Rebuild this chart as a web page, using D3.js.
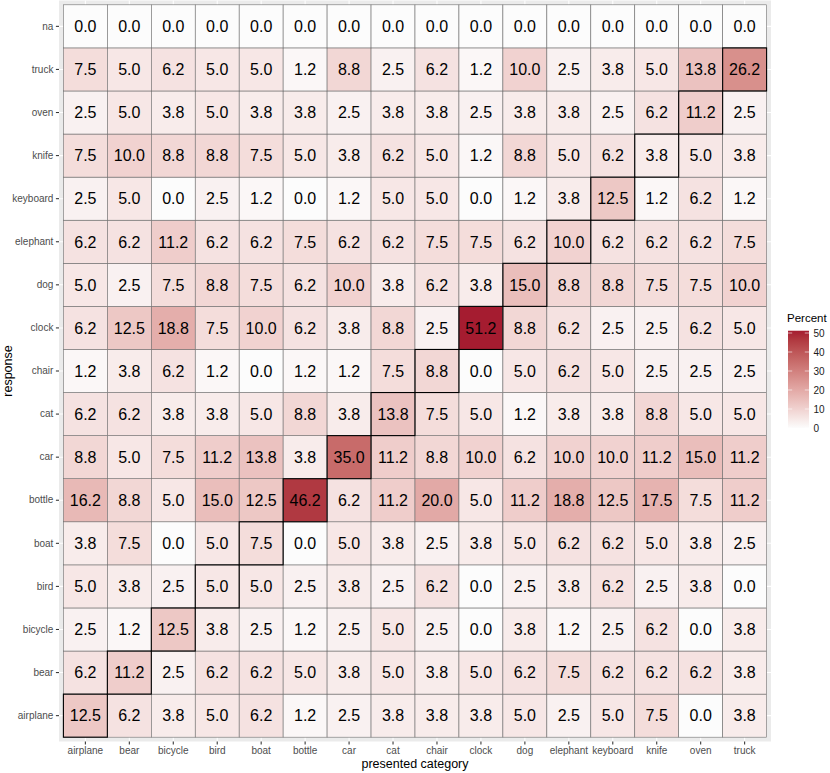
<!DOCTYPE html>
<html>
<head>
<meta charset="utf-8">
<script src="https://cdn.jsdelivr.net/npm/d3@7"></script>
<style>
  body { margin: 0; background: #fff; }
  svg { display: block; font-family: "Liberation Sans", Arial, sans-serif; }
</style>
</head>
<body>
<div id="chart"></div>
<script>
'use strict';

// presented categories (x) and responses (y, bottom to top)
const presented = ['airplane', 'bear', 'bicycle', 'bird', 'boat', 'bottle', 'car', 'cat',
  'chair', 'clock', 'dog', 'elephant', 'keyboard', 'knife', 'oven', 'truck']
const responses = ['airplane', 'bear', 'bicycle', 'bird', 'boat', 'bottle', 'car', 'cat',
  'chair', 'clock', 'dog', 'elephant', 'keyboard', 'knife', 'oven', 'truck', 'na']

// percent of responses, one row per response, columns follow `presented`
const airplaneRow = [12.5, 6.2, 3.8, 5.0, 6.2, 1.2, 2.5, 3.8, 3.8, 3.8, 5.0, 2.5, 5.0, 7.5, 0.0, 3.8]
const bearRow     = [6.2, 11.2, 2.5, 6.2, 6.2, 5.0, 3.8, 5.0, 3.8, 5.0, 6.2, 7.5, 6.2, 6.2, 6.2, 3.8]
const bicycleRow  = [2.5, 1.2, 12.5, 3.8, 2.5, 1.2, 2.5, 5.0, 2.5, 0.0, 3.8, 1.2, 2.5, 6.2, 0.0, 3.8]
const birdRow     = [5.0, 3.8, 2.5, 5.0, 5.0, 2.5, 3.8, 2.5, 6.2, 0.0, 2.5, 3.8, 6.2, 2.5, 3.8, 0.0]
const boatRow     = [3.8, 7.5, 0.0, 5.0, 7.5, 0.0, 5.0, 3.8, 2.5, 3.8, 5.0, 6.2, 6.2, 5.0, 3.8, 2.5]
const bottleRow   = [16.2, 8.8, 5.0, 15.0, 12.5, 46.2, 6.2, 11.2, 20.0, 5.0, 11.2, 18.8, 12.5, 17.5, 7.5, 11.2]
const carRow      = [8.8, 5.0, 7.5, 11.2, 13.8, 3.8, 35.0, 11.2, 8.8, 10.0, 6.2, 10.0, 10.0, 11.2, 15.0, 11.2]
const catRow      = [6.2, 6.2, 3.8, 3.8, 5.0, 8.8, 3.8, 13.8, 7.5, 5.0, 1.2, 3.8, 3.8, 8.8, 5.0, 5.0]
const chairRow    = [1.2, 3.8, 6.2, 1.2, 0.0, 1.2, 1.2, 7.5, 8.8, 0.0, 5.0, 6.2, 5.0, 2.5, 2.5, 2.5]
const clockRow    = [6.2, 12.5, 18.8, 7.5, 10.0, 6.2, 3.8, 8.8, 2.5, 51.2, 8.8, 6.2, 2.5, 2.5, 6.2, 5.0]
const dogRow      = [5.0, 2.5, 7.5, 8.8, 7.5, 6.2, 10.0, 3.8, 6.2, 3.8, 15.0, 8.8, 8.8, 7.5, 7.5, 10.0]
const elephantRow = [6.2, 6.2, 11.2, 6.2, 6.2, 7.5, 6.2, 6.2, 7.5, 7.5, 6.2, 10.0, 6.2, 6.2, 6.2, 7.5]
const keyboardRow = [2.5, 5.0, 0.0, 2.5, 1.2, 0.0, 1.2, 5.0, 5.0, 0.0, 1.2, 3.8, 12.5, 1.2, 6.2, 1.2]
const knifeRow    = [7.5, 10.0, 8.8, 8.8, 7.5, 5.0, 3.8, 6.2, 5.0, 1.2, 8.8, 5.0, 6.2, 3.8, 5.0, 3.8]
const ovenRow     = [2.5, 5.0, 3.8, 5.0, 3.8, 3.8, 2.5, 3.8, 3.8, 2.5, 3.8, 3.8, 2.5, 6.2, 11.2, 2.5]
const truckRow    = [7.5, 5.0, 6.2, 5.0, 5.0, 1.2, 8.8, 2.5, 6.2, 1.2, 10.0, 2.5, 3.8, 5.0, 13.8, 26.2]
const naRow       = [0.0, 0.0, 0.0, 0.0, 0.0, 0.0, 0.0, 0.0, 0.0, 0.0, 0.0, 0.0, 0.0, 0.0, 0.0, 0.0]

const rows = [airplaneRow, bearRow, bicycleRow, birdRow, boatRow, bottleRow, carRow, catRow,
  chairRow, clockRow, dogRow, elephantRow, keyboardRow, knifeRow, ovenRow, truckRow, naRow]

const legendTicks = [0, 10, 20, 30, 40, 50]

const width = 830, height = 773
const panel = { left: 59, right: 771, top: 0.5, bottom: 741.5 }

// long form table for the tiles
const cells = []
responses.forEach((r, i) => {
  presented.forEach((p, j) => {
    cells.push({ response: r, presented: p, value: rows[i][j] })
  })
})

const svg = d3.select('#chart').append('svg')
  .attr('width', width)
  .attr('height', height)

const x = d3.scaleBand()
  .domain(presented)
  .range([panel.left, panel.right])
  .paddingInner(0)
  .paddingOuter(0.1)

const y = d3.scaleBand()
  .domain(responses.slice().reverse())
  .range([panel.top, panel.bottom])
  .paddingInner(0)
  .paddingOuter(0.1)

const maxVal = d3.max(cells, d => d.value)
const color = d3.scaleLinear()
  .domain([0, maxVal])
  .range(['#fcfcfc', '#a51c30'])
  .interpolate(d3.interpolateLab)

// panel background + grid
svg.append('rect')
  .attr('x', panel.left).attr('y', panel.top)
  .attr('width', panel.right - panel.left)
  .attr('height', panel.bottom - panel.top)
  .attr('fill', '#ebebeb')

svg.append('g').selectAll('line.vx')
  .data(presented).join('line')
  .attr('x1', d => x(d) + x.bandwidth() / 2)
  .attr('x2', d => x(d) + x.bandwidth() / 2)
  .attr('y1', panel.top).attr('y2', panel.bottom)
  .attr('stroke', '#fff').attr('stroke-width', 1.07)

svg.append('g').selectAll('line.hy')
  .data(responses).join('line')
  .attr('y1', d => y(d) + y.bandwidth() / 2)
  .attr('y2', d => y(d) + y.bandwidth() / 2)
  .attr('x1', panel.left).attr('x2', panel.right)
  .attr('stroke', '#fff').attr('stroke-width', 1.07)

// tiles
svg.append('g').selectAll('rect')
  .data(cells).join('rect')
  .attr('x', d => x(d.presented))
  .attr('y', d => y(d.response))
  .attr('width', x.bandwidth())
  .attr('height', y.bandwidth())
  .attr('fill', d => color(d.value))
  .attr('stroke', '#6e6e6e')
  .attr('stroke-width', 0.6)

// diagonal (correct answer) outlined in black
svg.append('g').selectAll('rect')
  .data(cells.filter(d => d.response === d.presented)).join('rect')
  .attr('x', d => x(d.presented))
  .attr('y', d => y(d.response))
  .attr('width', x.bandwidth())
  .attr('height', y.bandwidth())
  .attr('fill', 'none')
  .attr('stroke', '#000')
  .attr('stroke-width', 1.1)

svg.append('g').selectAll('text')
  .data(cells).join('text')
  .attr('x', d => x(d.presented) + x.bandwidth() / 2)
  .attr('y', d => y(d.response) + y.bandwidth() / 2)
  .attr('text-anchor', 'middle')
  .attr('dy', '0.36em')
  .attr('font-size', 16)
  .attr('fill', '#000')
  .text(d => d.value.toFixed(1))

// axes
const xAxis = svg.append('g')
  .attr('transform', `translate(0,${panel.bottom})`)
  .call(d3.axisBottom(x).tickSize(3.1).tickPadding(2.3))
const yAxis = svg.append('g')
  .attr('transform', `translate(${panel.left},0)`)
  .call(d3.axisLeft(y).tickSize(3.1).tickPadding(2.5))

;[xAxis, yAxis].forEach(g => {
  g.select('.domain').remove()
  g.selectAll('.tick line').attr('stroke', '#333').attr('stroke-width', 1.07)
  g.selectAll('.tick text')
    .attr('fill', '#4d4d4d')
    .attr('font-size', 10)
    .attr('font-family', '"Liberation Sans", Arial, sans-serif')
})

svg.append('text')
  .attr('x', (panel.left + panel.right) / 2)
  .attr('y', 768)
  .attr('text-anchor', 'middle')
  .attr('font-size', 12.5)
  .text('presented category')

svg.append('text')
  .attr('transform', `translate(11.5,${(panel.top + panel.bottom) / 2}) rotate(-90)`)
  .attr('text-anchor', 'middle')
  .attr('font-size', 12.5)
  .text('response')

// colour bar legend
const barX = 788, barW = 21
const legY = d3.scaleLinear().domain([0, maxVal]).range([428, 428 - maxVal * 1.9])

const grad = svg.append('defs').append('linearGradient')
  .attr('id', 'pctGrad')
  .attr('x1', 0).attr('x2', 0).attr('y1', 1).attr('y2', 0)
d3.range(0, 1.0001, 0.1).forEach(t => {
  grad.append('stop')
    .attr('offset', t)
    .attr('stop-color', color(t * maxVal))
})

svg.append('rect')
  .attr('x', barX).attr('y', legY(maxVal))
  .attr('width', barW).attr('height', legY(0) - legY(maxVal))
  .attr('fill', 'url(#pctGrad)')

const lt = svg.append('g').selectAll('g')
  .data(legendTicks).join('g')
lt.append('line')
  .attr('x1', barX).attr('x2', barX + barW / 5)
  .attr('y1', d => legY(d)).attr('y2', d => legY(d))
  .attr('stroke', '#fff').attr('stroke-width', 0.6)
lt.append('line')
  .attr('x1', barX + barW * 4 / 5).attr('x2', barX + barW)
  .attr('y1', d => legY(d)).attr('y2', d => legY(d))
  .attr('stroke', '#fff').attr('stroke-width', 0.6)
lt.append('text')
  .attr('x', barX + barW + 4.5)
  .attr('y', d => legY(d))
  .attr('dy', '0.36em')
  .attr('font-size', 10)
  .attr('fill', '#1a1a1a')
  .text(d => d)

svg.append('text')
  .attr('x', 787)
  .attr('y', 322)
  .attr('font-size', 11.5)
  .text('Percent')
</script>
</body>
</html>
